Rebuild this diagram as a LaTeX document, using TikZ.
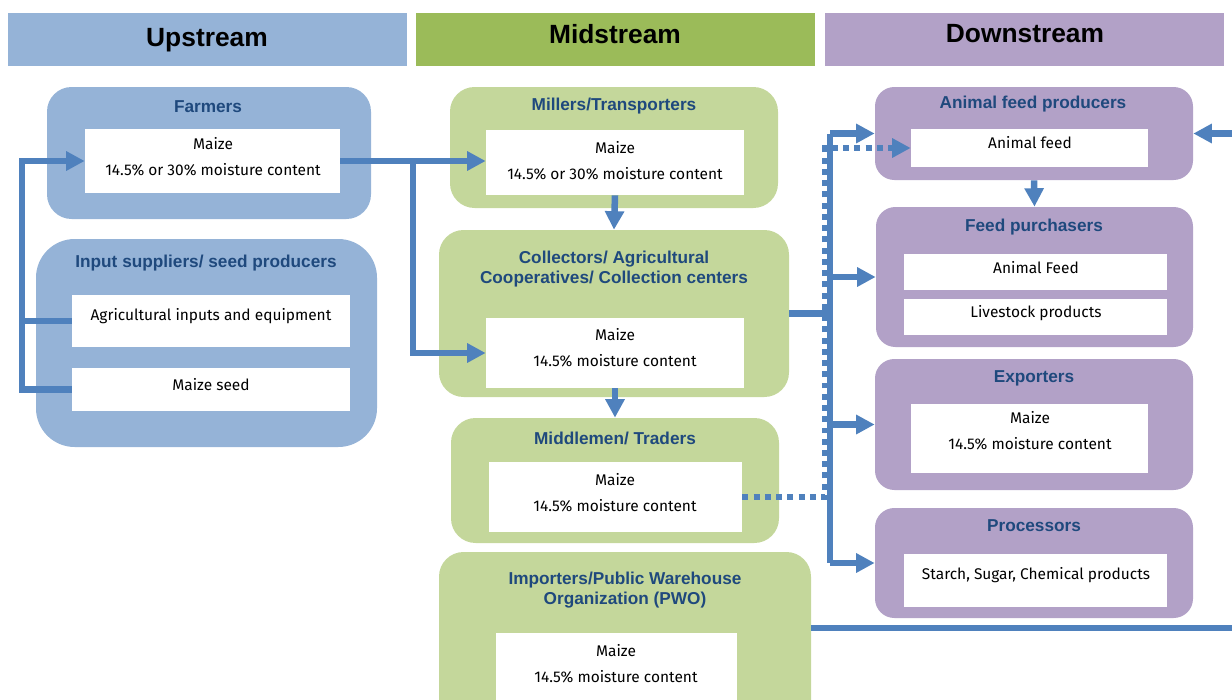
\documentclass[tikz,border=0pt]{standalone}
\usepackage{fontspec}
\setmainfont{Liberation Sans}
\newfontfamily\bodyfont{Fira Sans}
\usetikzlibrary{fit,arrows.meta}
\definecolor{upblue}{RGB}{149,179,215}
\definecolor{midgreen}{RGB}{155,187,89}
\definecolor{midlight}{RGB}{196,215,155}
\definecolor{downpurple}{RGB}{178,161,199}
\definecolor{arrowblue}{RGB}{79,129,189}
\definecolor{titleblue}{RGB}{31,73,125}
\begin{document}
\begin{tikzpicture}[x=0.02cm,y=-0.02cm,
  hdr/.style={inner sep=0, font=\bfseries\fontsize{15}{18}\selectfont},
  grp/.style={inner sep=0, rounded corners=14pt},
  wbox/.style={inner sep=0, fill=white},
  ttl/.style={font=\bfseries\fontsize{9.8}{11.3}\selectfont, text=titleblue, align=center, inner sep=0},
  txt/.style={font=\bodyfont\fontsize{8.8}{14.7}\selectfont, align=center, inner sep=0},
  flow/.style={draw=arrowblue, line width=3.7pt},
  arr/.style={flow, -{Triangle[length=10.5pt,width=10.5pt]}},
  dots/.style={draw=arrowblue, line width=3.5pt, dash pattern=on 3.4pt off 3pt},
  darr/.style={dots, -{Triangle[length=10.5pt,width=10.5pt]}},
]
\useasboundingbox (0,0) rectangle (1232,700);
\clip (0,0) rectangle (1232,700);

% headers
\node[hdr, fill=upblue, fit={(8,13)(407,66)}] (hup) {};
\node[hdr, fill=midgreen, fit={(416,13)(815,66)}] (hmid) {};
\node[hdr, fill=downpurple, fit={(825,13)(1224,66)}] (hdown) {};
\node[hdr] (tup) at (207,40) {Upstream};
\node[hdr] (tmid) at (615,34) {Midstream};
\node[hdr] (tdown) at (1025,34) {Downstream};

% upstream
\node[grp, fill=upblue, fit={(47,87)(371,219)}] (farm) {};
\node[wbox, fit={(85,129)(340,193)}] (farmw) {};
\node[ttl] (farmt) at (208,107) {Farmers};
\node[txt] (farmx) at (213,157) {Maize\\14.5\% or 30\% moisture content};

\node[grp, rounded corners=22pt, fill=upblue, fit={(36,239)(377,447)}] (inp) {};
\node[ttl] (inpt) at (206,263) {Input suppliers/ seed producers};
\node[wbox, fit={(72,295)(350,347)}] (agriw) {};
\node[txt] (agrix) at (211,316) {Agricultural inputs and equipment};
\node[wbox, fit={(72,368)(350,411)}] (seedw) {};
\node[txt] (seedx) at (211,385) {Maize seed};

% midstream
\node[grp, fill=midlight, fit={(450,87)(778,208)}] (mill) {};
\node[ttl] (millt) at (614,106) {Millers/Transporters};
\node[wbox, fit={(486,130)(744,195)}] (millw) {};
\node[txt] (millx) at (615,161) {Maize\\14.5\% or 30\% moisture content};

\node[grp, fill=midlight, fit={(439,230)(789,397)}] (coll) {};
\node[ttl] (collt) at (614,269) {Collectors/ Agricultural\\Cooperatives/ Collection centers};
\node[wbox, fit={(486,318)(744,388)}] (collw) {};
\node[txt] (collx) at (615,348) {Maize\\14.5\% moisture content};

\node[grp, fill=midlight, fit={(451,418)(779,543)}] (midm) {};
\node[ttl] (midmt) at (615,438) {Middlemen/ Traders};
\node[wbox, fit={(489,462)(742,532)}] (midw) {};
\node[txt] (midx) at (615,493) {Maize\\14.5\% moisture content};

\node[grp, fill=midlight, fit={(439,552)(811,740)}] (pwo) {};
\node[ttl] (pwot) at (625,590) {Importers/Public Warehouse\\Organization (PWO)};
\node[wbox, fit={(496,633)(737,700)}] (pwow) {};
\node[txt] (pwox) at (616,664) {Maize\\14.5\% moisture content};

% downstream
\node[grp, rounded corners=11pt, fill=downpurple, fit={(875,87)(1193,180)}] (afp) {};
\node[ttl] (afpt) at (1033,104) {Animal feed producers};
\node[wbox, fit={(911,129)(1148,167)}] (afw) {};
\node[txt] (afx) at (1030,143) {Animal feed};

\node[grp, rounded corners=11pt, fill=downpurple, fit={(876,207)(1193,347)}] (fp) {};
\node[ttl] (fpt) at (1034,227) {Feed purchasers};
\node[wbox, fit={(904,254)(1167,290)}] (fpw1) {};
\node[txt] (fpx1) at (1036,268) {Animal Feed};
\node[wbox, fit={(904,299)(1167,335)}] (fpw2) {};
\node[txt] (fpx2) at (1036,313) {Livestock products};

\node[grp, rounded corners=11pt, fill=downpurple, fit={(875,359)(1193,490)}] (exp) {};
\node[ttl] (expt) at (1034,378) {Exporters};
\node[wbox, fit={(911,404)(1148,473)}] (expw) {};
\node[txt] (expx) at (1030,430.5) {Maize\\14.5\% moisture content};

\node[grp, rounded corners=11pt, fill=downpurple, fit={(875,508)(1193,618)}] (proc) {};
\node[ttl] (proct) at (1034,526) {Processors};
\node[wbox, fit={(904,554)(1167,607)}] (procw) {};
\node[txt] (procx) at (1036,575) {Starch, Sugar, Chemical products};

% connectors upstream
\coordinate (jl) at (22,161);
\draw[flow] (agriw.west) -| (jl);
\draw[arr] (seedw.west) -| (jl) -- (farmw.west);
\coordinate (jm) at (413,161);
\draw[arr] (farmw.east) -- (millw.west |- farmw.east);
\draw[arr] (jm) |- (collw.west);

% midstream verticals
\draw[arr] (millw.south) -- (coll.north);
\draw[arr] (collw.south) -- (midm.north);
\draw[arr] (afp.south) -- (fp.north);

% bus
\coordinate (dotx) at (825,0);
\coordinate (busx) at (830,0);
\draw[darr] (midw.east) -- (midw.east -| dotx) -- (dotx |- afw.west) -- (afw.west);
\draw[flow] (coll.east) -- (coll.east -| busx);
\draw[flow] (busx |- afp.west) -- (busx |- proc.west);
\draw[arr] (busx |- afp.west) -- (afp.west);
\draw[arr] (busx |- fp.west) -- (fp.west);
\draw[arr] (busx |- exp.west) -- (exp.west);
\draw[arr] (busx |- proc.west) -- (proc.west);

% import line
\coordinate (imR) at (1250,628);
\draw[arr] (pwo.east |- imR) -- (imR) -- (imR |- afp.east) -- (afp.east);
\end{tikzpicture}
\end{document}
